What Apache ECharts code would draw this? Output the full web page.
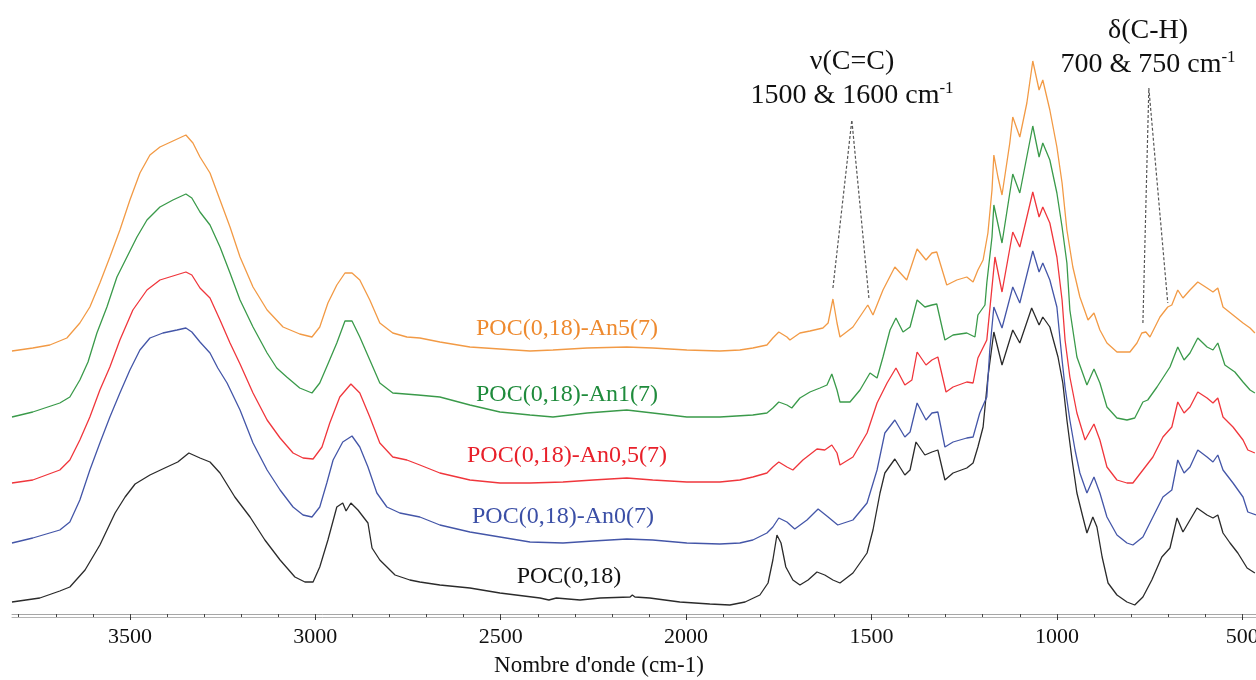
<!DOCTYPE html>
<html>
<head>
<meta charset="utf-8">
<script src="https://cdn.jsdelivr.net/npm/echarts@6/dist/echarts.min.js"></script>
<style>
html,body{margin:0;padding:0;background:#fff;}
#chart{width:1256px;height:680px;}
</style>
</head>
<body>
<div id="chart"></div>
<script>
// Wavenumber (cm-1), intensity (a.u., offset spectra)
const poc018 = [[3818,12],[3743,16],[3689,23],[3662,27],[3621,44],[3581,69],[3540,101],[3513,117],[3486,130],[3446,139],[3406,146],[3371,152],[3341,161],[3311,156],[3284,152],[3257,141],[3217,117],[3176,97],[3136,74],[3095,54],[3055,37],[3028,32],[3006,32],[2988,47],[2966,74],[2942,107],[2926,111],[2917,103],[2904,111],[2885,104],[2858,91],[2847,66],[2826,54],[2785,39],[2745,34],[2718,32],[2664,29],[2583,26],[2502,21],[2394,16],[2370,14],[2350,16],[2286,14],[2232,16],[2151,17],[2145,19],[2138,17],[2098,16],[2017,12],[1936,10],[1882,9],[1841,12],[1801,19],[1779,31],[1766,54],[1755,79],[1744,71],[1731,47],[1712,34],[1693,29],[1671,34],[1647,42],[1626,39],[1604,34],[1585,31],[1550,41],[1512,61],[1496,84],[1477,121],[1464,141],[1437,155],[1410,139],[1396,144],[1380,172],[1356,159],[1337,162],[1321,164],[1302,134],[1280,141],[1243,146],[1226,151],[1213,167],[1199,187],[1186,237],[1170,282],[1148,249],[1119,284],[1100,271],[1068,306],[1048,289],[1038,297],[1019,287],[997,257],[984,231],[973,194],[959,154],[946,121],[930,97],[919,81],[903,97],[892,87],[878,57],[862,31],[838,19],[811,12],[790,9],[768,17],[744,34],[717,57],[695,66],[676,96],[660,82],[641,94],[622,106],[595,99],[579,96],[566,99],[552,81],[533,71],[512,61],[487,46],[466,41]];

const an0 = [[3818,71],[3762,76],[3689,84],[3662,92],[3635,114],[3608,144],[3581,171],[3554,197],[3527,221],[3500,244],[3473,264],[3446,276],[3411,281],[3373,284],[3349,286],[3333,282],[3311,272],[3284,261],[3263,246],[3238,231],[3203,204],[3168,171],[3130,144],[3095,124],[3060,107],[3033,99],[3009,97],[2988,107],[2969,131],[2952,154],[2926,172],[2901,178],[2880,167],[2858,147],[2834,121],[2807,107],[2772,101],[2718,97],[2664,89],[2583,82],[2502,77],[2421,72],[2332,71],[2251,73],[2160,75],[2090,74],[1998,71],[1909,70],[1855,71],[1820,74],[1782,81],[1766,87],[1750,96],[1728,92],[1707,85],[1674,94],[1644,105],[1617,97],[1591,89],[1550,94],[1512,111],[1485,144],[1464,181],[1437,194],[1410,177],[1396,182],[1377,211],[1353,194],[1337,201],[1321,202],[1302,167],[1280,172],[1243,176],[1226,177],[1208,201],[1189,217],[1181,264],[1170,307],[1148,286],[1119,327],[1100,311],[1065,363],[1048,342],[1038,351],[1019,334],[1000,307],[986,254],[978,227],[965,194],[951,164],[938,141],[919,121],[900,137],[884,121],[865,97],[838,79],[811,71],[795,69],[768,77],[741,97],[714,117],[690,124],[674,154],[657,141],[641,147],[620,164],[595,157],[579,152],[566,159],[552,144],[525,131],[498,117],[485,102],[463,99]];

const an05 = [[3818,131],[3762,134],[3689,144],[3662,154],[3635,174],[3608,197],[3581,224],[3554,247],[3527,274],[3492,304],[3454,324],[3419,334],[3384,338],[3349,342],[3333,339],[3311,326],[3284,316],[3257,294],[3230,271],[3203,250],[3168,221],[3130,194],[3095,176],[3060,161],[3033,156],[3006,155],[2982,167],[2961,191],[2934,217],[2904,230],[2880,221],[2853,197],[2826,171],[2791,157],[2753,154],[2718,149],[2664,141],[2583,134],[2502,131],[2421,131],[2332,132],[2251,134],[2160,136],[2090,134],[1998,132],[1909,132],[1855,134],[1820,137],[1782,141],[1766,147],[1750,152],[1728,147],[1712,144],[1685,154],[1647,165],[1626,164],[1607,169],[1593,161],[1585,149],[1550,157],[1512,181],[1485,211],[1458,231],[1434,246],[1410,229],[1391,234],[1377,262],[1353,249],[1337,254],[1321,257],[1299,222],[1280,227],[1243,232],[1226,231],[1213,256],[1189,274],[1167,357],[1148,322],[1119,382],[1100,367],[1065,422],[1048,397],[1038,407],[1019,391],[1000,357],[986,314],[978,274],[965,237],[946,201],[924,174],[900,190],[884,174],[865,147],[838,134],[811,131],[795,131],[768,144],[741,157],[714,177],[690,187],[674,212],[657,201],[641,207],[620,222],[595,216],[579,211],[566,216],[552,197],[525,187],[498,174],[485,164],[466,161]];

const an1 = [[3818,197],[3762,202],[3689,211],[3662,217],[3635,234],[3613,252],[3589,281],[3562,307],[3535,337],[3508,357],[3481,377],[3454,394],[3419,407],[3384,414],[3349,420],[3333,416],[3311,402],[3284,389],[3257,367],[3230,341],[3203,314],[3168,287],[3130,261],[3104,246],[3077,237],[3042,226],[3009,221],[2988,231],[2966,250],[2942,271],[2920,293],[2901,293],[2880,277],[2853,254],[2826,231],[2791,221],[2723,219],[2664,217],[2583,209],[2502,202],[2421,199],[2359,197],[2267,201],[2160,204],[2090,201],[1998,197],[1909,197],[1820,199],[1782,201],[1766,206],[1750,212],[1728,209],[1715,206],[1693,216],[1666,222],[1639,226],[1620,229],[1607,240],[1593,224],[1585,212],[1558,212],[1531,224],[1504,241],[1485,236],[1469,257],[1450,284],[1434,296],[1415,282],[1396,287],[1377,314],[1356,307],[1337,309],[1324,310],[1302,274],[1280,279],[1243,281],[1221,277],[1213,299],[1194,309],[1189,331],[1175,377],[1170,409],[1148,371],[1119,440],[1100,421],[1065,488],[1048,457],[1038,471],[1019,454],[1000,421],[986,387],[973,351],[965,304],[946,257],[919,229],[900,245],[884,231],[865,207],[838,196],[811,194],[790,196],[768,212],[755,214],[730,227],[695,247],[674,267],[657,254],[641,261],[620,276],[595,267],[579,264],[566,271],[547,249],[520,242],[498,232],[479,224],[466,221]];

const an5 = [[3818,263],[3762,266],[3716,269],[3670,276],[3635,291],[3608,307],[3581,331],[3554,357],[3527,384],[3500,414],[3473,441],[3446,459],[3419,467],[3384,473],[3349,479],[3330,471],[3311,457],[3284,441],[3257,414],[3230,387],[3203,357],[3168,327],[3130,304],[3087,287],[3042,280],[3009,277],[2988,287],[2966,311],[2942,329],[2920,341],[2901,341],[2880,334],[2853,314],[2826,291],[2791,281],[2753,277],[2718,276],[2664,272],[2583,267],[2502,265],[2421,263],[2359,264],[2267,266],[2160,267],[2090,266],[1998,264],[1909,263],[1855,264],[1820,266],[1782,269],[1766,276],[1750,282],[1728,277],[1720,274],[1693,281],[1666,283],[1631,286],[1617,291],[1604,315],[1593,291],[1585,277],[1550,287],[1510,309],[1496,299],[1469,324],[1437,347],[1405,334],[1377,365],[1353,354],[1337,361],[1324,362],[1297,329],[1270,334],[1243,337],[1226,332],[1213,344],[1199,354],[1186,381],[1175,424],[1170,459],[1159,437],[1148,419],[1127,471],[1119,497],[1100,477],[1081,511],[1065,553],[1048,524],[1038,534],[1019,504],[1000,467],[986,431],[973,384],[957,347],[938,317],[916,294],[900,301],[884,284],[865,271],[838,262],[803,262],[784,271],[771,281],[760,282],[749,277],[722,297],[701,307],[690,309],[674,324],[660,316],[641,324],[620,332],[595,326],[579,322],[566,326],[552,307],[525,299],[498,291],[479,286],[466,281]];

// Annotation leader lines (end, apex, end)
const ccLeader = [[1604,326],[1553,494],[1507,316]];
const chLeader = [[768,291],[752,526],[701,311]];

const seriesNames = ['POC(0,18)','POC(0,18)-An0(7)','POC(0,18)-An0,5(7)','POC(0,18)-An1(7)','POC(0,18)-An5(7)'];
const seriesData = [poc018, an0, an05, an1, an5];
const lineColors = ['#2b2b2b','#4456a8','#f0363c','#3a9a4a','#f29a45'];
const textColors = ['#111111','#3b4fa6','#e8202a','#1f8b3c','#ee8a2f'];

const majorTicks = [500,1000,1500,2000,2500,3000,3500];
const minorTicks = [500,600,700,800,900,1000,1100,1200,1300,1400,1500,1600,1700,1800,1900,2000,2100,2200,2300,2400,2500,2600,2700,2800,2900,3000,3100,3200,3300,3400,3500,3600,3700,3800];
const xTitle = "Nombre d'onde (cm-1)";

const FONT = '"Liberation Serif", "Times New Roman", serif';
const chart = echarts.init(document.getElementById('chart'), null, {renderer:'canvas'});

const xBase = {type:'value', min:463, max:3818, inverse:true, splitLine:{show:false}};

const series = seriesData.map((d,i)=>({
  name: seriesNames[i], type:'line', data:d, xAxisIndex:0, yAxisIndex:0,
  showSymbol:false, symbol:'none', smooth:false, silent:true,
  lineStyle:{color:lineColors[i], width:1.3}, z:2
}));
[ccLeader, chLeader].forEach(d=>series.push({
  type:'line', data:d, xAxisIndex:0, yAxisIndex:0, showSymbol:false, symbol:'none', silent:true,
  lineStyle:{color:'#555', width:1.2, type:[3,2]}, z:3
}));

const labelPos = [[569,577],[563,517],[567,456],[567,395],[567,329]];
const graphic = seriesNames.map((n,i)=>({
  type:'text', x:labelPos[i][0], y:labelPos[i][1], z:10,
  style:{text:n, fill:textColors[i], fontSize:24, fontFamily:FONT, align:'center', verticalAlign:'middle'}
}));
const annot = [
  {t:'ν(C=C)', x:852, y:62},
  {t:'1500 & 1600 cm{s|-1}', x:852, y:96},
  {t:'δ(C-H)', x:1148, y:31},
  {t:'700 & 750 cm{s|-1}', x:1148, y:65}
];
annot.forEach(a=>graphic.push({
  type:'text', x:a.x, y:a.y, z:10,
  style:{text:a.t, fill:'#111', fontSize:28, fontFamily:FONT, align:'center', verticalAlign:'middle',
    rich:{s:{fontSize:17, fontFamily:FONT, fill:'#111', verticalAlign:'top', lineHeight:31}}}
}));

const fmt = v => String(v);

chart.setOption({
  animation:false,
  backgroundColor:'#ffffff',
  grid:{left:12, right:0, top:0, bottom:66, containLabel:false, outerBoundsMode:'none'},
  xAxis:[
    Object.assign({}, xBase, {
      position:'bottom',
      axisLine:{show:true, lineStyle:{color:'#a6a6a6', width:1}},
      axisTick:{show:true, customValues:majorTicks, length:6, lineStyle:{color:'#333', width:1}},
      axisLabel:{show:true, customValues:majorTicks, formatter:fmt, margin:12, fontSize:22, fontFamily:FONT, color:'#111', hideOverlap:false},
      name:xTitle, nameLocation:'middle', nameGap:40,
      nameTextStyle:{fontSize:23, fontFamily:FONT, color:'#111', padding:[0,70,0,0]}
    }),
    Object.assign({}, xBase, {
      position:'bottom', offset:0,
      axisLine:{show:false},
      axisTick:{show:true, customValues:minorTicks, length:3, lineStyle:{color:'#444', width:1}},
      axisLabel:{show:false}
    }),
    Object.assign({}, xBase, {
      position:'bottom', offset:3,
      axisLine:{show:true, lineStyle:{color:'#b4b4b4', width:1}},
      axisTick:{show:false}, axisLabel:{show:false}
    })
  ],
  yAxis:{type:'value', min:0, max:614, show:false},
  series:series,
  graphic:graphic
});
</script>
</body>
</html>
